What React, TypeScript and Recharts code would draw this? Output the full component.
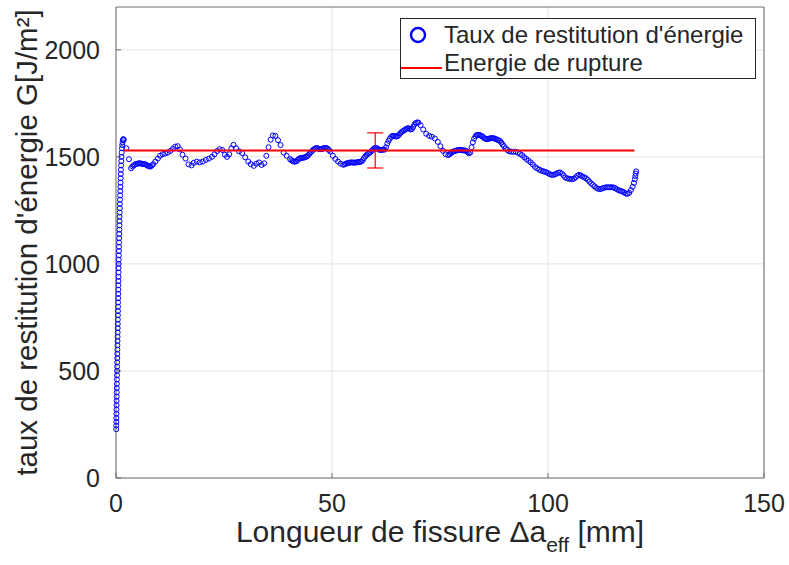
// Energy release rate vs effective crack length, MATLAB-style figure redrawn with recharts.
import { ErrorBar, Legend, Scatter, ScatterChart, XAxis, YAxis, CartesianGrid } from "recharts";

// [Δa_eff (mm), G (J/m²)]
const RESTITUTION: [number, number][] = [
  [0.05, 228], [0.06, 245], [0.08, 262], [0.09, 280], [0.1, 300], [0.11, 320], [0.13, 340], [0.14, 360],
  [0.15, 380], [0.17, 400], [0.18, 420], [0.2, 440], [0.21, 460], [0.23, 480], [0.24, 500], [0.26, 520],
  [0.27, 540], [0.29, 560], [0.3, 580], [0.32, 600], [0.33, 620], [0.35, 640], [0.36, 660], [0.38, 680],
  [0.39, 700], [0.41, 720], [0.42, 740], [0.44, 760], [0.45, 780], [0.47, 800], [0.48, 820], [0.5, 840],
  [0.51, 860], [0.53, 880], [0.54, 900], [0.56, 920], [0.57, 940], [0.59, 960], [0.6, 980], [0.62, 1000],
  [0.64, 1020], [0.66, 1040], [0.68, 1060], [0.7, 1080], [0.72, 1100], [0.74, 1120], [0.76, 1140], [0.78, 1160],
  [0.8, 1180], [0.82, 1200], [0.84, 1220], [0.86, 1240], [0.88, 1260], [0.9, 1280], [0.93, 1300], [0.96, 1320],
  [0.99, 1340], [1.02, 1360], [1.05, 1380], [1.08, 1400], [1.11, 1420], [1.14, 1440], [1.18, 1460], [1.22, 1480],
  [1.27, 1500], [1.32, 1520], [1.38, 1540], [1.45, 1555], [1.52, 1568], [1.6, 1578], [1.7, 1583], [1.8, 1580],
  [2.4, 1540], [3.0, 1489], [3.5, 1447],
  [3.8, 1455], [4.1, 1460], [4.4, 1464], [4.7, 1467], [5.0, 1468], [5.3, 1470], [5.6, 1470], [5.9, 1468],
  [6.2, 1466], [6.5, 1466], [6.8, 1465], [7.1, 1462], [7.4, 1458], [7.7, 1455], [8.0, 1455], [8.3, 1460], [8.6, 1466],
  [9.1, 1478], [9.7, 1492], [10.2, 1505], [10.8, 1512], [11.4, 1516], [12.0, 1520], [12.6, 1528], [13.2, 1538],
  [13.7, 1548], [14.3, 1550], [14.8, 1535], [15.4, 1510], [16.1, 1492], [16.8, 1465], [17.5, 1460], [18.0, 1472],
  [18.7, 1478], [19.4, 1474], [20.1, 1478], [20.8, 1486], [21.5, 1492], [22.2, 1500], [22.8, 1512], [23.4, 1527],
  [24.0, 1536], [24.6, 1532], [25.2, 1510], [25.7, 1500], [26.2, 1512], [26.7, 1540], [27.2, 1556], [27.8, 1540],
  [28.5, 1526], [29.2, 1518], [29.9, 1498], [30.6, 1478], [31.2, 1466], [31.9, 1458], [32.5, 1468], [33.1, 1474],
  [33.7, 1462], [34.3, 1470], [34.8, 1505], [35.3, 1545], [35.8, 1580], [36.3, 1600], [36.9, 1598], [37.5, 1578],
  [38.1, 1555], [38.8, 1520], [39.5, 1505],
  [40.3, 1489], [40.6, 1484], [40.9, 1480], [41.2, 1478], [41.5, 1478], [41.8, 1480], [42.1, 1486], [42.4, 1492],
  [42.7, 1494], [43.0, 1495], [43.3, 1496], [43.6, 1497], [43.9, 1500], [44.2, 1502], [44.5, 1508], [44.8, 1515],
  [45.1, 1522], [45.4, 1528], [45.7, 1534], [46.0, 1538], [46.3, 1541], [46.6, 1541], [46.9, 1538], [47.2, 1536],
  [47.5, 1536], [47.8, 1538], [48.1, 1541], [48.4, 1542], [48.7, 1541], [49.0, 1538], [49.3, 1532], [49.6, 1525],
  [50.2, 1505], [50.8, 1490], [51.4, 1478], [52.0, 1468], [52.6, 1463],
  [52.9, 1465], [53.2, 1468], [53.5, 1470], [53.8, 1472], [54.1, 1473], [54.4, 1474], [54.7, 1474], [55.0, 1473],
  [55.3, 1473], [55.6, 1474], [55.9, 1475], [56.2, 1476], [56.5, 1477], [56.8, 1478], [57.1, 1484], [57.4, 1494],
  [57.7, 1502], [58.0, 1508], [58.3, 1514], [58.6, 1518], [58.9, 1522], [59.2, 1528], [59.5, 1535], [59.8, 1540],
  [60.1, 1542], [60.4, 1540], [60.7, 1536], [61.0, 1533], [61.3, 1532], [61.6, 1533], [61.9, 1534], [62.2, 1534],
  [62.5, 1545], [62.8, 1562], [63.1, 1575], [63.4, 1585], [63.7, 1594], [64.0, 1598], [64.3, 1598], [64.6, 1596],
  [64.9, 1595], [65.2, 1597], [65.5, 1603], [65.8, 1610], [66.1, 1616], [66.4, 1620], [66.7, 1624], [67.0, 1628],
  [67.3, 1632], [67.6, 1634], [67.9, 1632], [68.2, 1628], [68.5, 1630], [68.8, 1640], [69.1, 1652], [69.4, 1658],
  [69.7, 1661], [70.0, 1660],
  [70.5, 1648], [71.1, 1628], [71.8, 1608], [72.5, 1598], [73.1, 1594], [73.8, 1586], [74.5, 1570], [75.1, 1550],
  [75.7, 1528], [76.3, 1512], [76.9, 1508],
  [77.2, 1512], [77.5, 1517], [77.8, 1522], [78.1, 1525], [78.4, 1527], [78.7, 1529], [79.0, 1531], [79.3, 1532],
  [79.6, 1533], [79.9, 1532], [80.2, 1531], [80.5, 1530], [80.8, 1530], [81.1, 1527], [81.4, 1522], [81.7, 1517],
  [82.0, 1520], [82.3, 1545], [82.6, 1568], [82.9, 1585], [83.2, 1596], [83.5, 1602], [83.8, 1603], [84.1, 1602],
  [84.4, 1600], [84.7, 1597], [85.0, 1592], [85.3, 1587], [85.6, 1584], [85.9, 1583], [86.2, 1584], [86.5, 1586],
  [86.8, 1587], [87.1, 1588], [87.4, 1587], [87.7, 1585], [88.0, 1582], [88.3, 1580], [88.6, 1577], [88.9, 1574],
  [89.2, 1566], [89.5, 1558], [89.8, 1550],
  [90.2, 1540], [90.6, 1532], [91.0, 1526], [91.5, 1524], [92.0, 1524], [92.5, 1524], [93.0, 1520], [93.5, 1514],
  [94.0, 1508], [94.5, 1498], [95.0, 1490], [95.5, 1482], [96.0, 1474], [96.5, 1464], [97.0, 1453], [97.5, 1446],
  [98.0, 1440],
  [98.4, 1436], [98.8, 1433], [99.2, 1431], [99.6, 1428], [100.0, 1424], [100.4, 1419], [100.8, 1416], [101.2, 1416],
  [101.6, 1418], [102.0, 1422], [102.4, 1426], [102.8, 1427], [103.2, 1422], [103.6, 1413], [104.0, 1404], [104.4, 1400],
  [104.8, 1398], [105.2, 1397], [105.6, 1396], [106.0, 1398], [106.4, 1404], [106.8, 1412], [107.2, 1416], [107.6, 1413],
  [108.0, 1408], [108.4, 1404], [108.8, 1400], [109.2, 1393], [109.6, 1384], [110.0, 1376], [110.4, 1369], [110.8, 1362],
  [111.2, 1355], [111.6, 1351], [112.0, 1349], [112.4, 1351], [112.8, 1355], [113.2, 1357], [113.6, 1358], [114.0, 1358],
  [114.4, 1358], [114.8, 1358], [115.2, 1357], [115.6, 1353], [116.0, 1348], [116.4, 1344], [116.8, 1341], [117.2, 1338],
  [117.6, 1334], [118.0, 1329], [118.4, 1327], [118.8, 1332], [119.2, 1345], [119.6, 1360], [119.9, 1378], [120.1, 1395],
  [120.2, 1410], [120.3, 1422], [120.4, 1432],
];

// fracture energy (horizontal line) and its scatter at Δa = 60 mm
const RUPTURE_X = [1.8, 120];
const RUPTURE_G = 1530;
const ERROR_X = 60;
const ERROR_HALF = 82;

const X_TICKS = [0, 50, 100, 150];
const Y_TICKS = [0, 500, 1000, 1500, 2000];

const LEGEND_LABELS = ["Taux de restitution d'énergie", "Energie de rupture"];

const FONT = "'Liberation Sans', Arial, Helvetica, sans-serif";
const TEXT = "#262626";
const AXIS = "#6e6e6e";
const BLUE = "#0000ff";
const RED = "#ff0000";

const pointData = RESTITUTION.map(([x, y]) => ({ x, y }));
const ruptureData = RUPTURE_X.map((x) => ({ x, y: RUPTURE_G }));
const errorData = [{ x: ERROR_X, y: RUPTURE_G, err: ERROR_HALF }];

const OpenCircle = (props: any) => (
  <circle cx={props.cx} cy={props.cy} r={2.5} fill="none" stroke={BLUE} strokeWidth={1} />
);
const NoMarker = () => <g />;

function LegendBox() {
  return (
    <svg width={357} height={62} style={{ display: "block" }}>
      <rect x={0.5} y={0.5} width={355} height={60} fill="#fff" stroke={TEXT} strokeWidth={1} />
      <circle cx={18} cy={17} r={7} fill="none" stroke={BLUE} strokeWidth={2.4} />
      <text x={44} y={24.5} fontSize={24} fontFamily={FONT} fill={TEXT}>
        {LEGEND_LABELS[0]}
      </text>
      <line x1={1} x2={42} y1={50} y2={50} stroke={RED} strokeWidth={2} />
      <text x={44} y={53} fontSize={24} fontFamily={FONT} fill={TEXT}>
        {LEGEND_LABELS[1]}
      </text>
    </svg>
  );
}

const XLabel = () => (
  <text x={440} y={542} textAnchor="middle" fontSize={30} fontFamily={FONT} fill={TEXT}>
    Longueur de fissure Δa
    <tspan fontSize={21} dy={10}>eff</tspan>
    <tspan dy={-10}> [mm]</tspan>
  </text>
);

const YLabel = () => (
  <text
    x={37}
    y={242.5}
    transform="rotate(-90 37 242.5)"
    textAnchor="middle"
    fontSize={29.5}
    fontFamily={FONT}
    fill={TEXT}
  >
    taux de restitution d'énergie G[J/m²]
  </text>
);

export default function App() {
  const tickStyle = { fontSize: 25, fontFamily: FONT, fill: TEXT };
  return (
    <div style={{ position: "absolute", left: 0, top: 0, width: 789, height: 565, background: "#fff" }}>
      <ScatterChart width={789} height={565} margin={{ top: 6, right: 24, bottom: 0, left: 0 }}>
        <CartesianGrid stroke="#e3e3e3" strokeWidth={1} horizontalValues={Y_TICKS} verticalValues={X_TICKS} />
        <XAxis
          type="number"
          dataKey="x"
          domain={[0, 150]}
          ticks={X_TICKS}
          height={87}
          tickSize={-5}
          tickMargin={21}
          stroke={AXIS}
          tick={tickStyle}
          label={<XLabel />}
        />
        <XAxis
          xAxisId="top"
          orientation="top"
          type="number"
          domain={[0, 150]}
          ticks={X_TICKS}
          height={1}
          tickSize={-5}
          stroke={AXIS}
          tick={false}
        />
        <YAxis
          type="number"
          dataKey="y"
          domain={[0, 2200]}
          ticks={Y_TICKS}
          width={116}
          tickSize={-5}
          tickMargin={21}
          stroke={AXIS}
          tick={tickStyle}
          label={<YLabel />}
        />
        <YAxis
          yAxisId="right"
          orientation="right"
          type="number"
          domain={[0, 2200]}
          ticks={Y_TICKS}
          width={1}
          tickSize={-5}
          stroke={AXIS}
          tick={false}
        />
        <Scatter
          data={pointData}
          shape={OpenCircle}
          isAnimationActive={false}
          legendType="circle"
        />
        <Scatter
          data={ruptureData}
          line={{ stroke: RED, strokeWidth: 2 }}
          shape={NoMarker}
          isAnimationActive={false}
        />
        <Scatter data={errorData} shape={NoMarker} isAnimationActive={false}>
          <ErrorBar dataKey="err" direction="y" width={8} stroke={RED} strokeWidth={1.2} />
        </Scatter>
        <Legend
          layout="horizontal"
          align="center"
          verticalAlign="middle"
          content={() => <LegendBox />}
          wrapperStyle={{ position: "absolute", left: 400, top: 18, width: 357, height: 62 }}
        />
      </ScatterChart>
    </div>
  );
}
